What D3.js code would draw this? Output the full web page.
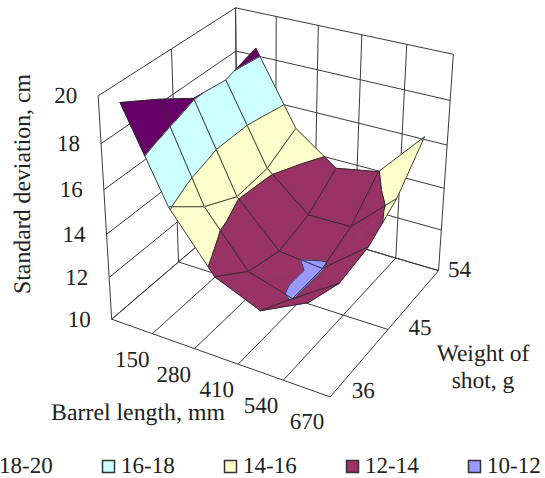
<!DOCTYPE html><html><body style="margin:0;background:#fff;overflow:hidden"><svg id="s" width="545" height="478" style="display:block;text-rendering:geometricPrecision"></svg>
<script src="https://cdn.jsdelivr.net/npm/d3@7"></script>
<script>
// ---- data ----
const barrelLengths=[150,280,410,540,670];
const shotWeights=[36,40.5,45,49.5,54];
const weightTicks=[36,45,54];
const valueTicks=[10,12,14,16,18,20];
const sd36=[19.96,16.11,13.66,12.81,13.84];
const sd405=[19.05,14.86,12.50,11.9,13.26];
const sd45=[18.05,14.08,12.10,11.9,13.55];
const sd495=[17.86,14.22,12.54,12.56,14.47];
const sd54=[18.34,15.01,13.59,13.96,16.13];
const surface=[sd36,sd405,sd45,sd495,sd54];
const bandNames=['18-20','16-18','14-16','12-14','10-12'];
const bandLows=[18,16,14,12,10];
const bandColors=['#660066','#CCFFFF','#FFFFCC','#993366','#9999FF'];
// ---- projection of the unit box, calibrated on the frame corners ----
const frame=[[0,0,0,112,318],[1,0,0,330,398],[1,1,0,439,269],[0,1,0,237,213],[0,0,1,98,96],[0,1,1,236,7],[1,1,1,453,55]];
function solve(A,b){const n=b.length;const M=A.map((r,i)=>[...r,b[i]]);for(let i=0;i<n;i++){let p=i;for(let r=i;r<n;r++)if(Math.abs(M[r][i])>Math.abs(M[p][i]))p=r;[M[i],M[p]]=[M[p],M[i]];for(let r=0;r<n;r++)if(r!=i){const f=M[r][i]/M[i][i];for(let c=i;c<=n;c++)M[r][c]-=f*M[i][c];}}return M.map((r,i)=>r[n]/r[i]);}
const R=[],B=[];frame.forEach(([x,y,z,u,v])=>{R.push([x,y,z,1,0,0,0,0,-u*x,-u*y,-u*z]);B.push(u);R.push([0,0,0,0,x,y,z,1,-v*x,-v*y,-v*z]);B.push(v);});
const AtA=d3.range(11).map(i=>d3.range(11).map(j=>d3.sum(R,r=>r[i]*r[j])));
const Atb=d3.range(11).map(i=>d3.sum(R,(r,k)=>r[i]*B[k]));
const p=solve(AtA,Atb);
const proj=(x,y,z)=>{const w=p[8]*x+p[9]*y+p[10]*z+1;return[(p[0]*x+p[1]*y+p[2]*z+p[3])/w,(p[4]*x+p[5]*y+p[6]*z+p[7])/w];};
// ---- scales ----
const xBand=d3.scaleBand().domain(barrelLengths).range([0,1]);
const xC=b=>xBand(b)+xBand.bandwidth()/2;
const yS=d3.scaleLinear().domain([36,54]).range([0,1]);
const zS=d3.scaleLinear().domain([10,20]).range([0,1]);
const svg=d3.select('#s');
const gridColor='#3a3a3a', meshColor='#2a2a2a', textColor='#222';
const line=(a,b)=>{const P=proj(...a),Q=proj(...b);svg.append('line').attr('x1',P[0]).attr('y1',P[1]).attr('x2',Q[0]).attr('y2',Q[1]).attr('stroke',gridColor).attr('stroke-width',1);};
// walls and floor
const xEdges=d3.range(barrelLengths.length+1).map(i=>i*xBand.bandwidth());
valueTicks.forEach(v=>{const z=zS(v);line([0,0,z],[0,1,z]);line([0,1,z],[1,1,z]);});
weightTicks.forEach(w=>{const y=yS(w);line([0,y,0],[0,y,1]);line([0,y,0],[1,y,0]);});
xEdges.forEach(x=>{line([x,1,0],[x,1,1]);line([x,0,0],[x,1,0]);});
// ---- surface ----
function clip(poly,lo,hi){
  const cut=(pts,lvl,keepAbove)=>{const out=[];pts.forEach((a,i)=>{const b=pts[(i+1)%pts.length];const ia=keepAbove?a[2]>=lvl:a[2]<=lvl,ib=keepAbove?b[2]>=lvl:b[2]<=lvl;if(ia)out.push(a);if(ia!==ib){const t=(lvl-a[2])/(b[2]-a[2]);out.push([a[0]+t*(b[0]-a[0]),a[1]+t*(b[1]-a[1]),lvl]);}});return out;};
  return cut(cut(poly,lo,true),hi,false);
}
const pathOf=pts=>'M'+pts.map(q=>{const P=proj(q[0],q[1],zS(q[2]));return P[0].toFixed(2)+','+P[1].toFixed(2);}).join('L');
const cells=[];
for(let j=0;j<surface.length-1;j++)for(let i=0;i<barrelLengths.length-1;i++)cells.push([i,j]);
cells.sort((a,b)=>(a[0]-a[1])-(b[0]-b[1]));
const surf=svg.append('g');
cells.forEach(([i,j])=>{
  const V=(ii,jj)=>[xC(barrelLengths[ii]),yS(shotWeights[jj]),surface[jj][ii]];
  const c=[V(i,j),V(i+1,j),V(i+1,j+1),V(i,j+1)];
  const m=[d3.mean(c,q=>q[0]),d3.mean(c,q=>q[1]),d3.mean(c,q=>q[2])];
  const tris=d3.range(4).map(k=>[c[k],c[(k+1)%4],m]).sort((a,b)=>(d3.sum(a,q=>q[0]-q[1]))-(d3.sum(b,q=>q[0]-q[1])));
  tris.forEach(t=>{
    bandLows.forEach((lo,bi)=>{const pg=clip(t,lo,lo+2);if(pg.length>2)surf.append('path').attr('d',pathOf(pg)+'Z').attr('fill',bandColors[bi]).attr('stroke',bandColors[bi]).attr('stroke-width',1).attr('stroke-linejoin','round');});
  });
  tris.forEach(t=>{
    bandLows.slice(0,-1).forEach(lvl=>{
      const seg=[];t.forEach((a,k)=>{const b=t[(k+1)%3];if((a[2]-lvl)*(b[2]-lvl)<0){const u=(lvl-a[2])/(b[2]-a[2]);seg.push([a[0]+u*(b[0]-a[0]),a[1]+u*(b[1]-a[1]),lvl]);}});
      if(seg.length===2)surf.append('path').attr('d',pathOf(seg)).attr('fill','none').attr('stroke',meshColor).attr('stroke-width',.9);
    });
  });
  surf.append('path').attr('d',pathOf(c)+'Z').attr('fill','none').attr('stroke',meshColor).attr('stroke-width',.9).attr('stroke-linejoin','round');
});
// ---- text ----
const font='"Liberation Serif","Times New Roman",serif';
const txt=(x,y,s,size,anchor)=>svg.append('text').attr('x',x).attr('y',y).attr('font-family',font).attr('font-size',size).attr('fill',textColor).attr('text-anchor',anchor||'middle').text(s);
const tickSize=23;
valueTicks.forEach(v=>{const P=proj(0,0,zS(v));txt(P[0]-21,P[1]+7.5,v,tickSize,'end');});
barrelLengths.forEach(b=>{const P=proj(xC(b),0,0);txt(P[0]+.5,P[1]+41,b,tickSize);});
const weightOffsets=[[33,1.5],[32,6],[21,6]];
weightTicks.forEach((w,i)=>{const P=proj(1,yS(w),0);txt(P[0]+weightOffsets[i][0],P[1]+weightOffsets[i][1],w,tickSize);});
txt(138,420,'Barrel length, mm',23.8);
txt(483,361,'Weight of',23.5);
txt(483,388,'shot, g',23.5);
svg.append('text').attr('transform','translate(30,184) rotate(-90)').attr('font-family',font).attr('font-size',23.8).attr('fill',textColor).attr('text-anchor','middle').text('Standard deviation, cm');
// ---- legend ----
const legendX=d3.scaleLinear().domain([0,1]).range([-20,102]);
bandNames.forEach((n,i)=>{const x=legendX(i);
  svg.append('rect').attr('x',x+.5).attr('y',460.5).attr('width',12).attr('height',12).attr('fill',bandColors[i]).attr('stroke','#333').attr('stroke-width',1.5);
  txt(x+19,473,n,23,'start');});
</script></body></html>
